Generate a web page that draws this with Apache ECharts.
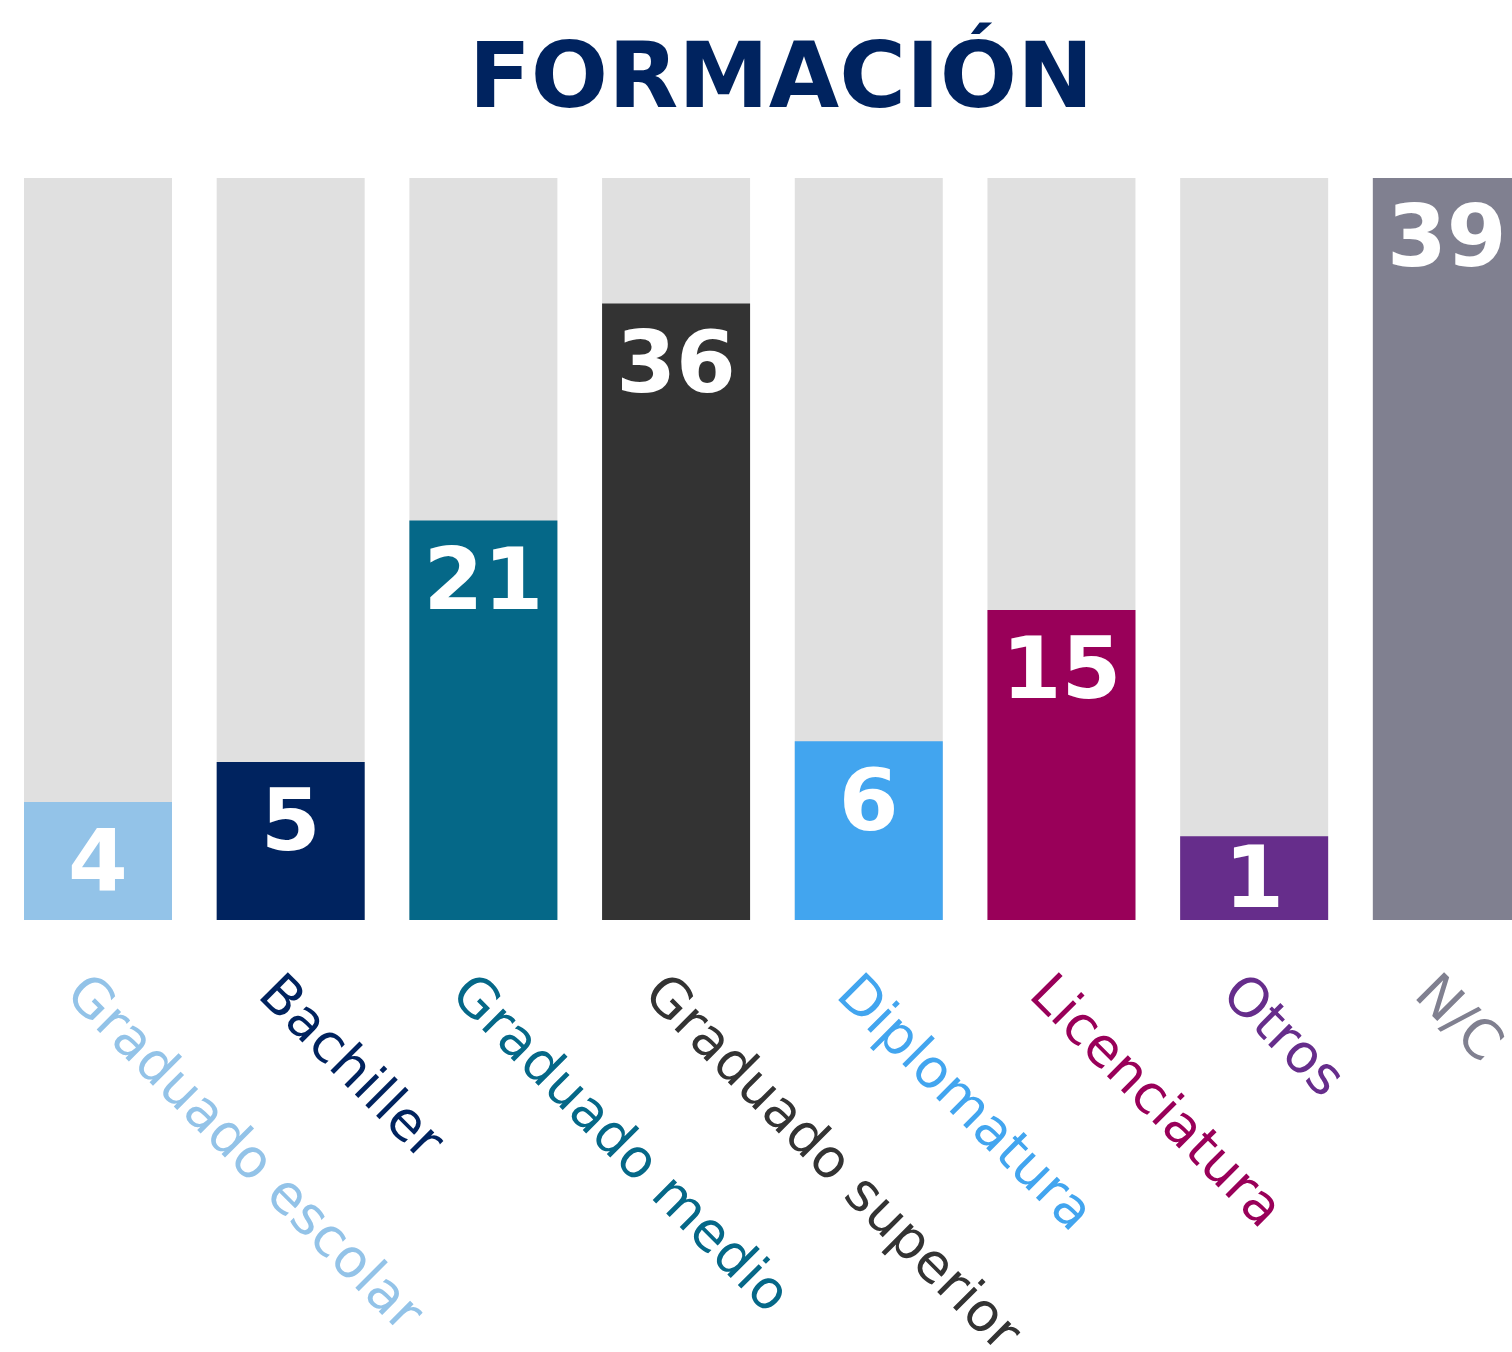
<!DOCTYPE html>
<html>
<head>
<meta charset="utf-8">
<title>Formación</title>
<script src="https://cdn.jsdelivr.net/npm/echarts@6/dist/echarts.min.js"></script>
<style>
  html, body { margin: 0; padding: 0; background: #fff; }
  #chart { width: 1512px; height: 1352px; }
</style>
</head>
<body>
<div id="chart"></div>
<script>
// categorías del eje
const categorias = ['Graduado escolar', 'Bachiller', 'Graduado medio', 'Graduado superior',
    'Diplomatura', 'Licenciatura', 'Otros', 'N/C'];

// cifra impresa en cada barra
const valores = [4, 5, 21, 36, 6, 15, 1, 39];

// altura con la que está dibujada cada barra (escala en la que N/C = 39)
// en el original las alturas no son proporcionales a las cifras
const alturas = [6.2, 8.3, 21.0, 32.4, 9.4, 16.3, 4.4, 39];

const escalaMax = 39;

const colores = ['#93c3e8', '#00235f', '#056888', '#333333', '#42a5ef', '#990059', '#662d8b', '#808090'];

const chart = echarts.init(document.getElementById('chart'), null, { renderer: 'canvas' });

const datosBarras = alturas.map((h, i) => {
    const item = { value: h, itemStyle: { color: colores[i] } };
    // barra muy baja: la cifra va centrada
    if (h < 6) {
        item.label = { position: 'inside', offset: [0, 7] };
    }
    return item;
});

const option = {
    animation: false,
    backgroundColor: '#ffffff',
    title: {
        text: 'FORMACIÓN',
        left: 781,
        top: 38,
        textAlign: 'center',
        padding: 0,
        textStyle: {
            fontFamily: 'DejaVu Sans',
            fontWeight: 'bold',
            fontSize: 91,
            color: '#00235f'
        }
    },
    grid: {
        left: 1.65,
        right: -31.2,
        top: 178,
        bottom: 432,
        containLabel: false,
        outerBoundsMode: 'none'
    },
    xAxis: {
        type: 'category',
        data: categorias,
        axisLine: { show: false },
        axisTick: { show: false },
        splitLine: { show: false },
        axisLabel: {
            interval: 0,
            rotate: -45,
            margin: 42,
            fontFamily: 'DejaVu Sans',
            fontSize: 54,
            verticalAlign: 'top',
            lineHeight: 69,
            color: (value, index) => colores[index]
        }
    },
    yAxis: {
        type: 'value',
        min: 0,
        max: escalaMax,
        show: false
    },
    series: [
        {
            type: 'bar',
            barWidth: 148,
            silent: true,
            showBackground: true,
            backgroundStyle: { color: '#e0e0e0' },
            label: {
                show: true,
                position: 'insideTop',
                distance: 23,
                color: '#ffffff',
                fontFamily: 'DejaVu Sans',
                fontWeight: 'bold',
                fontSize: 86,
                formatter: (p) => String(valores[p.dataIndex])
            },
            data: datosBarras
        }
    ]
};

chart.setOption(option);
</script>
</body>
</html>
